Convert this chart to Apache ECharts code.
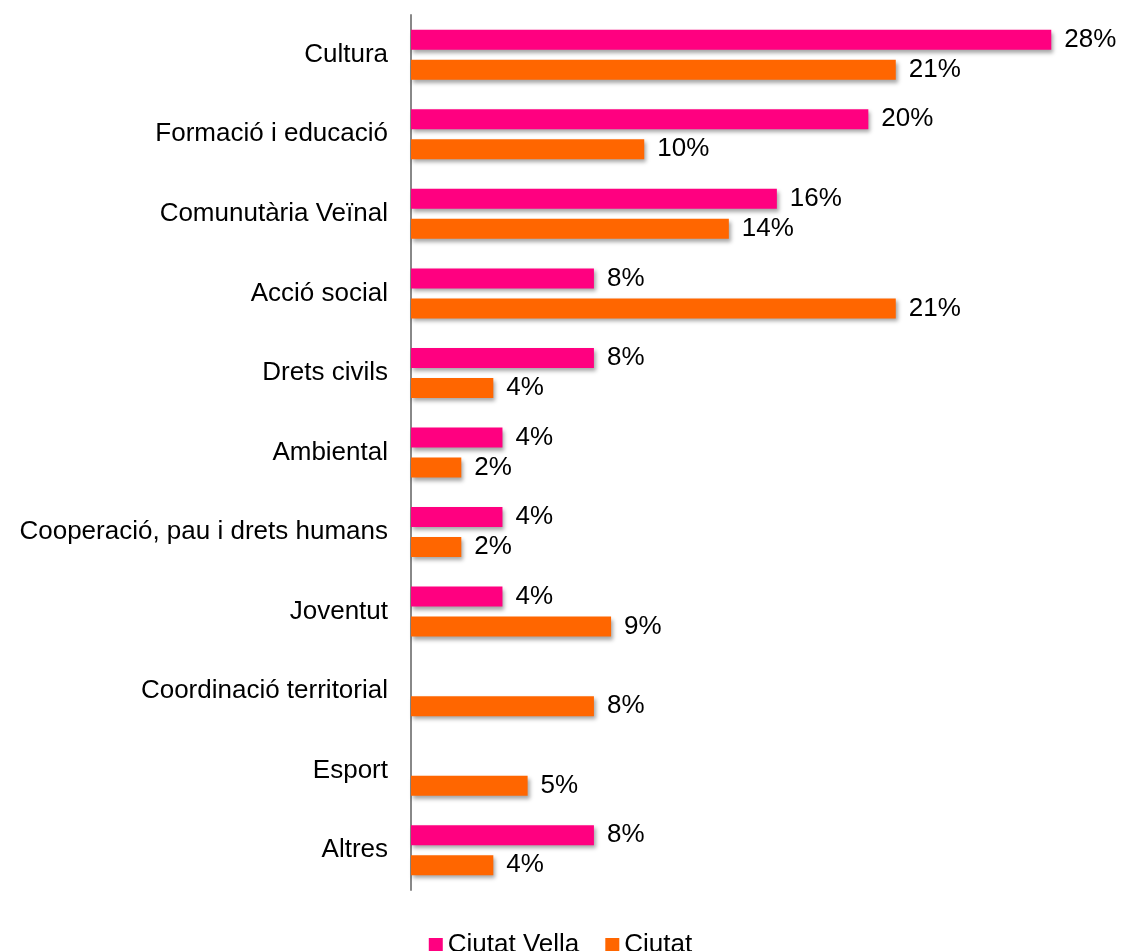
<!DOCTYPE html>
<html>
<head>
<meta charset="utf-8">
<script src="https://cdn.jsdelivr.net/npm/echarts@6/dist/echarts.min.js"></script>
<style>
  html, body { margin: 0; padding: 0; background: #fff; }
  #chart { width: 1121px; height: 951px; }
</style>
</head>
<body>
<div id="chart"></div>
<script>
const categories = [
  "Cultura",
  "Formació i educació",
  "Comunutària Veïnal",
  "Acció social",
  "Drets civils",
  "Ambiental",
  "Cooperació, pau i drets humans",
  "Joventut",
  "Coordinació territorial",
  "Esport",
  "Altres"
];
const ciutatVella = [28, 20, 16, 8, 8, 4, 4, 4, null, null, 8];
const ciutat = [21.2, 10.2, 13.9, 21.2, 3.6, 2.2, 2.2, 8.75, 8, 5.1, 3.6];

const font = "'Liberation Sans', Arial, sans-serif";
const shadow = { shadowColor: "rgba(0,0,0,0.35)", shadowBlur: 4, shadowOffsetX: 2, shadowOffsetY: 3 };

const chart = echarts.init(document.getElementById("chart"));

function barLabel() {
  return {
    show: true,
    position: "right",
    distance: 13,
    color: "#000",
    fontFamily: font,
    fontSize: 26,
    formatter: (p) => Math.round(p.value) + "%"
  };
}

chart.setOption({
  animation: false,
  textStyle: { fontFamily: font },
  grid: { left: 411, right: 24, top: 15, bottom: 61, containLabel: false },
  legend: {
    bottom: -12,
    left: "center",
    itemWidth: 14,
    itemHeight: 14,
    itemGap: 26,
    icon: "rect",
    textStyle: { fontFamily: font, fontSize: 26, color: "#000" },
    data: ["Ciutat Vella", "Ciutat"]
  },
  xAxis: {
    type: "value",
    min: 0,
    max: 30,
    show: false
  },
  yAxis: {
    type: "category",
    inverse: true,
    data: categories,
    axisLine: { show: true, lineStyle: { color: "#888", width: 2 } },
    axisTick: { show: false },
    axisLabel: { color: "#000", fontFamily: font, fontSize: 26, margin: 23 }
  },
  series: [
    {
      name: "Ciutat Vella",
      type: "bar",
      data: ciutatVella,
      barWidth: 20,
      barGap: "50%",
      itemStyle: Object.assign({ color: "#FF0080" }, shadow),
      label: barLabel()
    },
    {
      name: "Ciutat",
      type: "bar",
      data: ciutat,
      barWidth: 20,
      barGap: "50%",
      itemStyle: Object.assign({ color: "#FF6600" }, shadow),
      label: barLabel()
    }
  ]
});
</script>
</body>
</html>
